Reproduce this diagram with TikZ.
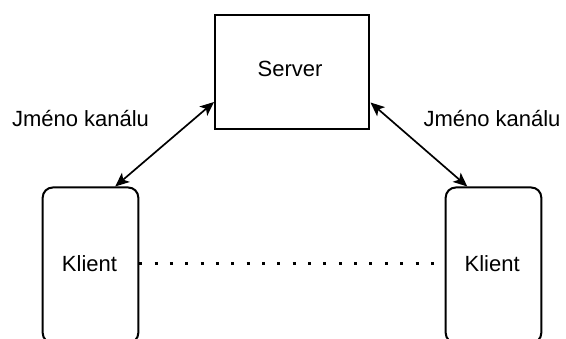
\documentclass[tikz,border=0pt]{standalone}
\usepackage{fontspec}
\setmainfont{Liberation Sans}
\usetikzlibrary{arrows.meta,calc}
\begin{document}
\begin{tikzpicture}[x=1pt,y=1pt,
  box/.style={draw=black,line width=2pt,outer sep=0pt,inner sep=0pt,fill=white},
  clientbox/.style={box,rounded corners=10pt,minimum width=95.6pt,minimum height=155.5pt},
  lbl/.style={inner sep=0pt,anchor=base,font=\fontsize{22}{26}\selectfont},
  tip/.style={Stealth[length=14pt,width=12pt,inset=3.5pt]},
  conn/.style={line width=1.7pt,{Stealth[length=14pt,width=12pt,inset=3.5pt]}-{Stealth[length=14pt,width=12pt,inset=3.5pt]}},
  dots/.style={line width=3pt,dash pattern=on 3pt off 12.35pt}]
\useasboundingbox (0,0) rectangle (566,338);
\node[box,minimum width=154pt,minimum height=114pt] (srv) at (292,266) {};
\node[lbl] (srvt) at (290,261) {Server};
\node[clientbox] (cl) at (90.5,72.75) {};
\node[lbl] (clt) at (89.5,66.3) {Klient};
\node[clientbox] (cr) at (493.5,72.75) {};
\node[lbl] (crt) at (492.2,66.3) {Klient};
\node[lbl] (jl) at (80.5,211) {Jméno kanálu};
\node[lbl] (jr) at (492,211) {Jméno kanálu};
\draw[conn] ([xshift=-1pt,yshift=27pt]srv.south west) -- ([xshift=72.5pt,yshift=1pt]cl.north west);
\draw[conn] ([xshift=1.5pt,yshift=26.5pt]srv.south east) -- ([xshift=-74pt,yshift=1pt]cr.north east);
\draw[dots] ([xshift=0.9pt,yshift=1.25pt]cl.east) -- ([yshift=1.25pt]cr.west);
\end{tikzpicture}
\end{document}
